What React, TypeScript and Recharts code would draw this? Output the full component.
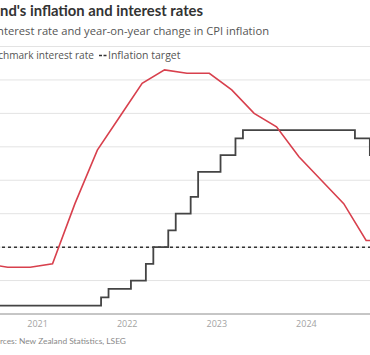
import React from 'react';
import { LineChart, Line, XAxis, YAxis, CartesianGrid, ReferenceLine } from 'recharts';

// Quarterly CPI inflation, year-on-year %
const cpiQuarters = [
  '2020-03', '2020-06', '2020-09', '2020-12',
  '2021-03', '2021-06', '2021-09', '2021-12',
  '2022-03', '2022-06', '2022-09', '2022-12',
  '2023-03', '2023-06', '2023-09', '2023-12',
  '2024-03', '2024-06', '2024-09', '2024-12',
];
const cpiInflation = [
  2.5, 1.5, 1.4, 1.4,
  1.5, 3.3, 4.9, 5.9,
  6.9, 7.3, 7.2, 7.2,
  6.7, 6.0, 5.6, 4.7,
  4.0, 3.3, 2.2, 2.2,
];

// Monthly benchmark interest rate (OCR), %
const ocrMonths = [
  '2020-01', '2020-02', '2020-03', '2020-04', '2020-05', '2020-06', '2020-07', '2020-08', '2020-09', '2020-10', '2020-11', '2020-12',
  '2021-01', '2021-02', '2021-03', '2021-04', '2021-05', '2021-06', '2021-07', '2021-08', '2021-09', '2021-10', '2021-11', '2021-12',
  '2022-01', '2022-02', '2022-03', '2022-04', '2022-05', '2022-06', '2022-07', '2022-08', '2022-09', '2022-10', '2022-11', '2022-12',
  '2023-01', '2023-02', '2023-03', '2023-04', '2023-05', '2023-06', '2023-07', '2023-08', '2023-09', '2023-10', '2023-11', '2023-12',
  '2024-01', '2024-02', '2024-03', '2024-04', '2024-05', '2024-06', '2024-07', '2024-08', '2024-09', '2024-10', '2024-11', '2024-12',
];
const ocrRate = [
  1.0, 1.0, 0.25, 0.25, 0.25, 0.25, 0.25, 0.25, 0.25, 0.25, 0.25, 0.25,
  0.25, 0.25, 0.25, 0.25, 0.25, 0.25, 0.25, 0.25, 0.25, 0.5, 0.75, 0.75,
  0.75, 1.0, 1.0, 1.5, 2.0, 2.0, 2.5, 3.0, 3.0, 3.5, 4.25, 4.25,
  4.25, 4.75, 4.75, 5.25, 5.5, 5.5, 5.5, 5.5, 5.5, 5.5, 5.5, 5.5,
  5.5, 5.5, 5.5, 5.5, 5.5, 5.5, 5.5, 5.25, 5.25, 4.75, 4.25, 4.25,
];

const yearTicks = [2021, 2022, 2023, 2024];
const valueTicks = [0, 1, 2, 3, 4, 5, 6, 7];
const inflationTarget = 2;

const title = "New Zealand's inflation and interest rates";
const subtitle = 'Benchmark interest rate and year-on-year change in CPI inflation';
const legendRate = 'Benchmark interest rate';
const legendTarget = 'Inflation target';
const source = 'Sources: New Zealand Statistics, LSEG';

const toYear = (s: string) => {
  const [y, m] = s.split('-').map(Number);
  return y + (m - 1) / 12;
};

const cpiData = cpiQuarters.map((d, i) => ({ t: toYear(d), v: cpiInflation[i] }));
const ocrData = ocrMonths.map((d, i) => ({ t: toYear(d), v: ocrRate[i] }));

const FONT = '"Open Sans", "Noto Sans", sans-serif';
const NARROW_FONT = 'Lato, "Open Sans", sans-serif';
const RED = '#d8404d';
const DARK = '#444444';

export default function App() {
  return (
    <div
      style={{
        position: 'absolute',
        left: 0,
        top: 0,
        width: 370,
        height: 355,
        overflow: 'hidden',
        background: '#ffffff',
      }}
    >
      <div style={{ position: 'absolute', left: -52, top: 0 }}>
        <LineChart
          width={448}
          height={355}
          margin={{ top: 46.5, right: 0, bottom: 11, left: 0 }}
        >
          <CartesianGrid vertical={false} stroke="#e3e3e3" strokeWidth={1} />
          <XAxis
            type="number"
            dataKey="t"
            domain={[2020, 2025]}
            ticks={yearTicks}
            tickFormatter={(v: number) => String(Math.round(v))}
            tickLine={false}
            tickMargin={0.5}
            height={30}
            axisLine={{ stroke: '#9a9a9a', strokeWidth: 1 }}
            tick={{ fill: '#a3a3a3', fontSize: 9, fontFamily: FONT }}
          />
          <YAxis hide type="number" domain={[0, 8]} ticks={valueTicks} />
          <ReferenceLine
            y={inflationTarget}
            stroke="#333333"
            strokeWidth={1.5}
            strokeDasharray="3 3"
          />
          <Line
            data={ocrData}
            dataKey="v"
            type="step"
            stroke={DARK}
            strokeWidth={1.8}
            dot={false}
            isAnimationActive={false}
          />
          <Line
            data={cpiData}
            dataKey="v"
            type="linear"
            stroke={RED}
            strokeWidth={1.6}
            dot={false}
            isAnimationActive={false}
          />
        </LineChart>
      </div>
      <svg
        width={370}
        height={355}
        style={{ position: 'absolute', left: 0, top: 0, pointerEvents: 'none' }}
      >
        <text x={203} y={16} textAnchor="end" fontFamily={NARROW_FONT} fontWeight={700} fontSize={14.8} fill="#333333">
          {title}
        </text>
        <text x={269} y={35} textAnchor="end" fontFamily={FONT} fontSize={11.2} fill="#555555">
          {subtitle}
        </text>
        <text x={94} y={59} textAnchor="end" fontFamily={FONT} fontSize={10.1} fill="#555555">
          {legendRate}
        </text>
        <line x1={99} x2={106.5} y1={55.5} y2={55.5} stroke="#333333" strokeWidth={1.5} strokeDasharray="3 1.5" />
        <text x={108} y={59} fontFamily={FONT} fontSize={10.5} fill="#555555">
          {legendTarget}
        </text>
        <text x={126} y={344} textAnchor="end" fontFamily={NARROW_FONT} fontSize={8.4} fill="#8a8a8a">
          {source}
        </text>
      </svg>
    </div>
  );
}
